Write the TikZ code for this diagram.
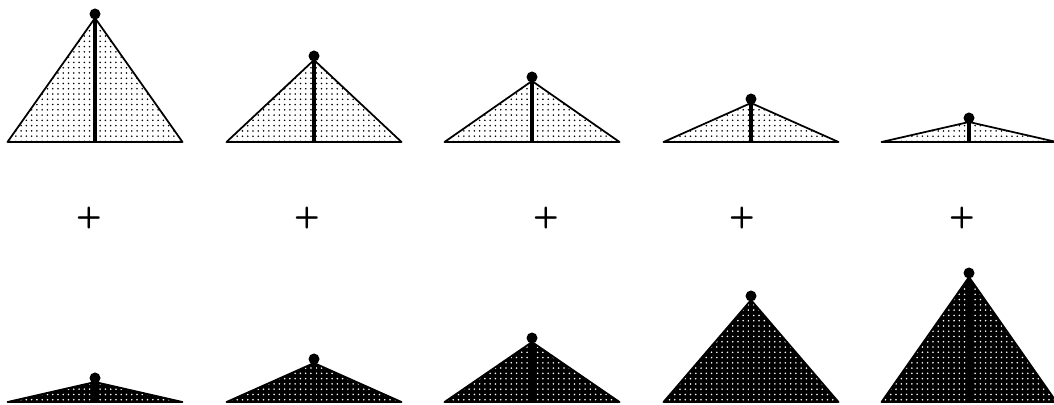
\documentclass[tikz,border=0pt]{standalone}
\usepackage{fontspec}
\usetikzlibrary{patterns}

\begin{document}
\begin{tikzpicture}[x=0.02cm, y=0.02cm]
\def\hw{87.5}
\def\topY{263}
\def\botY{3}

\tikzset{
  outline/.style={line width=1pt, line join=round},
  pole/.style={line width=2.3pt},
  lightfill/.style={pattern=dots, pattern color=black},
  darkfill/.style={pattern=dots, pattern color=white},
  plussign/.style={font=\fontsize{17}{17}\selectfont\sffamily\bfseries, inner sep=0pt}
}

\useasboundingbox (0,0) rectangle (1054,405);

% upper row, light piles
\foreach \cx/\h in {95/124, 314/82, 532/61, 751/39, 969/20} {
  \coordinate (L) at (\cx-\hw,\topY);
  \coordinate (R) at (\cx+\hw,\topY);
  \coordinate (A) at (\cx,\topY+\h);
  \fill[white] (L) -- (A) -- (R) -- cycle;
  \fill[lightfill] (L) -- (A) -- (R) -- cycle;
  \draw[outline] (L) -- (A) -- (R) -- cycle;
  \draw[pole] (A) -- (\cx,\topY);
  \fill (\cx,\topY+\h+4) circle (5.5);
}

% lower row, dark piles
\foreach \cx/\h in {95/20, 314/39, 532/60, 751/102, 969/125} {
  \coordinate (L) at (\cx-\hw,\botY);
  \coordinate (R) at (\cx+\hw,\botY);
  \coordinate (A) at (\cx,\botY+\h);
  \fill[black] (L) -- (A) -- (R) -- cycle;
  \fill[darkfill] (L) -- (A) -- (R) -- cycle;
  \draw[outline] (L) -- (A) -- (R) -- cycle;
  \draw[pole] (A) -- (\cx,\botY);
  \fill (\cx,\botY+\h+4) circle (5.5);
}

% plus signs
\foreach \px [count=\i] in {89, 307, 546, 742, 962}
  \node[plussign] (p\i) at (\px,187) {+};
\end{tikzpicture}
\end{document}
